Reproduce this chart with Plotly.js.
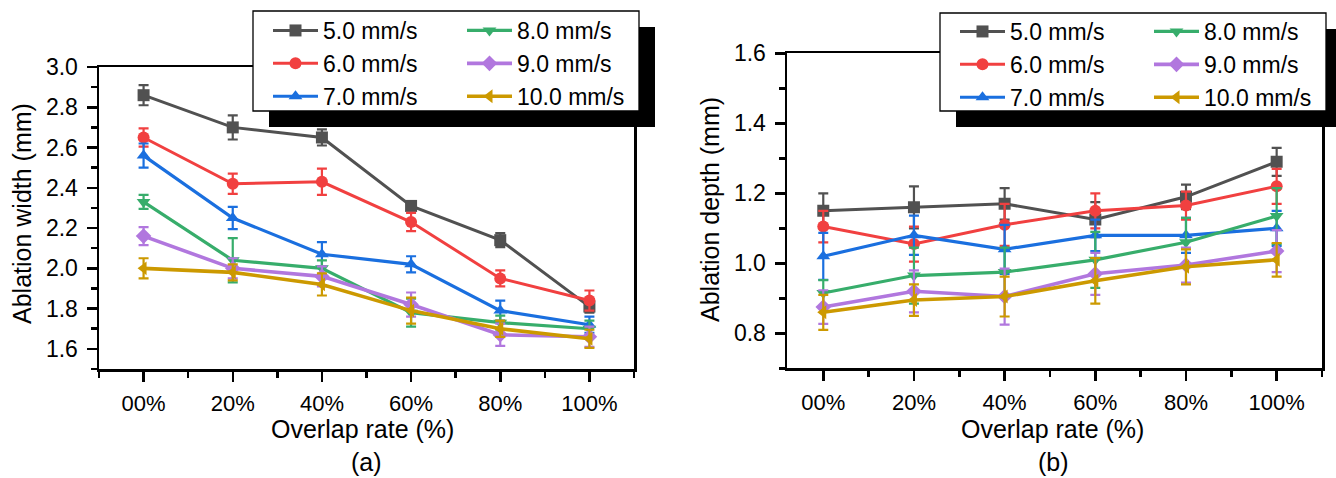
<!DOCTYPE html>
<html>
<head>
<meta charset="utf-8">
<script src="https://cdn.plot.ly/plotly-3.0.1.min.js"></script>
<style>
  html, body { margin: 0; padding: 0; background: #ffffff; }
  #chart { width: 1336px; height: 478px; }
</style>
</head>
<body>
<div id="chart"></div>
<script>
// ---- data ----
const categories = ["00%", "20%", "40%", "60%", "80%", "100%"];
const speeds = ["5.0 mm/s", "6.0 mm/s", "7.0 mm/s", "8.0 mm/s", "9.0 mm/s", "10.0 mm/s"];

// (a) ablation width (mm)
const widthMean5  = [2.86, 2.70, 2.65, 2.31, 2.14, 1.81];
const widthErr5   = [0.05, 0.06, 0.04, 0.02, 0.035, 0.03];
const widthMean6  = [2.65, 2.42, 2.43, 2.23, 1.95, 1.84];
const widthErr6   = [0.045, 0.05, 0.065, 0.045, 0.04, 0.05];
const widthMean7  = [2.56, 2.25, 2.07, 2.02, 1.79, 1.72];
const widthErr7   = [0.06, 0.055, 0.06, 0.04, 0.05, 0.04];
const widthMean8  = [2.33, 2.04, 2.00, 1.78, 1.73, 1.70];
const widthErr8   = [0.035, 0.11, 0.04, 0.07, 0.035, 0.04];
const widthMean9  = [2.16, 2.00, 1.96, 1.82, 1.67, 1.66];
const widthErr9   = [0.045, 0.05, 0.05, 0.06, 0.055, 0.05];
const widthMean10 = [2.00, 1.98, 1.92, 1.79, 1.70, 1.65];
const widthErr10  = [0.05, 0.04, 0.055, 0.065, 0.04, 0.045];

// (b) ablation depth (mm)
const depthMean5  = [1.15, 1.16, 1.17, 1.125, 1.19, 1.29];
const depthErr5   = [0.05, 0.06, 0.045, 0.05, 0.035, 0.04];
const depthMean6  = [1.105, 1.055, 1.11, 1.15, 1.165, 1.22];
const depthErr6   = [0.045, 0.05, 0.06, 0.05, 0.04, 0.05];
const depthMean7  = [1.02, 1.08, 1.04, 1.08, 1.08, 1.10];
const depthErr7   = [0.067, 0.056, 0.07, 0.045, 0.05, 0.05];
const depthMean8  = [0.915, 0.965, 0.975, 1.01, 1.06, 1.135];
const depthErr8   = [0.037, 0.08, 0.07, 0.08, 0.07, 0.08];
const depthMean9  = [0.875, 0.92, 0.905, 0.97, 0.995, 1.035];
const depthErr9   = [0.048, 0.06, 0.08, 0.06, 0.05, 0.06];
const depthMean10 = [0.86, 0.895, 0.905, 0.95, 0.99, 1.01];
const depthErr10  = [0.05, 0.045, 0.057, 0.065, 0.05, 0.048];

const yTicksWidth = [1.6, 1.8, 2.0, 2.2, 2.4, 2.6, 2.8, 3.0];
const yTicksDepth = [0.8, 1.0, 1.2, 1.4, 1.6];

// ---- styling ----
const colors  = ["#515151", "#F14040", "#1A6FDF", "#37AD6B", "#B177DE", "#CC9900"];
const symbols = ["square", "circle", "triangle-up", "triangle-down", "diamond", "triangle-left"];
const lineWidths = [3, 3, 3.2, 3.2, 3.6, 3.6];
const FONT = "Arial, 'Liberation Sans', sans-serif";

const xIdx = categories.map((c, i) => i);
const widthMeans = [widthMean5, widthMean6, widthMean7, widthMean8, widthMean9, widthMean10];
const widthErrs  = [widthErr5, widthErr6, widthErr7, widthErr8, widthErr9, widthErr10];
const depthMeans = [depthMean5, depthMean6, depthMean7, depthMean8, depthMean9, depthMean10];
const depthErrs  = [depthErr5, depthErr6, depthErr7, depthErr8, depthErr9, depthErr10];

function makeTrace(means, errs, i, xa, ya, leg, grp) {
  return {
    type: "scatter", mode: "lines+markers",
    x: xIdx, y: means,
    xaxis: xa, yaxis: ya, legend: leg, legendgroup: grp + i,
    name: speeds[i],
    line: { color: colors[i], width: lineWidths[i] },
    marker: { symbol: symbols[i], size: 12, color: colors[i] },
    error_y: { type: "data", array: errs, visible: true, color: colors[i], thickness: 2.2, width: 5 }
  };
}

const traces = [];
for (let i = 0; i < 6; i++) traces.push(makeTrace(widthMeans[i], widthErrs[i], i, "x", "y", i < 3 ? "legend" : "legend2", "a"));
for (let i = 0; i < 6; i++) traces.push(makeTrace(depthMeans[i], depthErrs[i], i, "x2", "y2", i < 3 ? "legend3" : "legend4", "b"));

const W = 1336, H = 478;
const px = v => v / W;
const py = v => 1 - v / H;

function xAxis(domain, range, anchor) {
  return {
    domain: domain, range: range, anchor: anchor,
    tickvals: xIdx, ticktext: categories,
    showgrid: false, zeroline: false,
    showline: true, linecolor: "#000", linewidth: 2.5, mirror: true,
    ticks: "outside", ticklen: 10, tickwidth: 2.5, tickcolor: "#000",
    minor: { dtick: 0.5, tick0: 0, ticks: "outside", ticklen: 6, tickwidth: 2.5, tickcolor: "#000", showgrid: false },
    tickfont: { family: FONT, size: 22, color: "#000" },
    ticklabelstandoff: 3,
    fixedrange: true
  };
}
function yAxis(domain, range, tickvals, anchor) {
  return {
    domain: domain, range: range, anchor: anchor,
    tickvals: tickvals, tickformat: ".1f",
    showgrid: false, zeroline: false,
    showline: true, linecolor: "#000", linewidth: 2.5, mirror: true,
    ticks: "outside", ticklen: 10, tickwidth: 2.5, tickcolor: "#000",
    minor: { dtick: 0.1, tick0: 0, ticks: "outside", ticklen: 6, tickwidth: 2.5, tickcolor: "#000", showgrid: false },
    tickfont: { family: FONT, size: 23, color: "#000" },
    ticklabelstandoff: 4,
    fixedrange: true
  };
}

const legendCommon = {
  orientation: "v", xanchor: "left", yanchor: "top",
  bgcolor: "rgba(0,0,0,0)", borderwidth: 0,
  font: { family: FONT, size: 23, color: "#000" },
  traceorder: "grouped", tracegroupgap: 0, itemwidth: 45
};

// legend boxes (pixel positions in the figure)
const legTop = 9;
const boxA = { x0: 253, x1: 639, y0: 11, y1: 111 };
const boxB = { x0: 940, x1: 1326, y0: 13, y1: 111 };
const shadowOff = { dx: 16, dy: 16 };

function boxShapes(b) {
  return [
    { type: "rect", xref: "paper", yref: "paper",
      x0: px(b.x0 + shadowOff.dx), x1: px(b.x1 + shadowOff.dx), y0: py(b.y1 + shadowOff.dy), y1: py(b.y0 + shadowOff.dy),
      fillcolor: "#000", line: { width: 0 }, layer: "above" },
    { type: "rect", xref: "paper", yref: "paper",
      x0: px(b.x0), x1: px(b.x1), y0: py(b.y1), y1: py(b.y0),
      fillcolor: "#fff", line: { color: "#000", width: 1.3 }, layer: "above" }
  ];
}

const layout = {
  width: W, height: H,
  margin: { l: 0, r: 0, t: 0, b: 0 },
  paper_bgcolor: "#fff", plot_bgcolor: "#fff",
  font: { family: FONT, color: "#000" },
  showlegend: true,
  xaxis:  xAxis([px(99), px(634)], [-0.5, 5.5], "y"),
  yaxis:  yAxis([1 - 369 / H, 1 - 67 / H], [1.5, 3.0], yTicksWidth, "x"),
  xaxis2: xAxis([px(787), px(1322)], [-0.4, 5.5], "y2"),
  yaxis2: yAxis([1 - 368.3 / H, 1 - 53.3 / H], [0.7, 1.6], yTicksDepth, "x2"),
  legend:  Object.assign({}, legendCommon, { x: px(boxA.x0 + 15), y: py(legTop) }),
  legend2: Object.assign({}, legendCommon, { x: px(boxA.x0 + 209), y: py(legTop) }),
  legend3: Object.assign({}, legendCommon, { x: px(boxB.x0 + 15), y: py(legTop + 1) }),
  legend4: Object.assign({}, legendCommon, { x: px(boxB.x0 + 209), y: py(legTop + 1) }),
  shapes: boxShapes(boxA).concat(boxShapes(boxB)),
  annotations: [
    { text: "Overlap rate (%)", xref: "paper", yref: "paper", x: px(362), y: py(429), showarrow: false,
      xanchor: "center", yanchor: "middle", font: { family: FONT, size: 25, color: "#000" } },
    { text: "(a)", xref: "paper", yref: "paper", x: px(366), y: py(462), showarrow: false,
      xanchor: "center", yanchor: "middle", font: { family: FONT, size: 25, color: "#000" } },
    { text: "Overlap rate (%)", xref: "paper", yref: "paper", x: px(1052), y: py(429), showarrow: false,
      xanchor: "center", yanchor: "middle", font: { family: FONT, size: 25, color: "#000" } },
    { text: "(b)", xref: "paper", yref: "paper", x: px(1053), y: py(462), showarrow: false,
      xanchor: "center", yanchor: "middle", font: { family: FONT, size: 25, color: "#000" } },
    { text: "Ablation width (mm)", xref: "paper", yref: "paper", x: px(22), y: py(214), showarrow: false,
      textangle: -90, xanchor: "center", yanchor: "middle", font: { family: FONT, size: 25, color: "#000" } },
    { text: "Ablation depth (mm)", xref: "paper", yref: "paper", x: px(710), y: py(210), showarrow: false,
      textangle: -90, xanchor: "center", yanchor: "middle", font: { family: FONT, size: 25, color: "#000" } }
  ]
};

Plotly.newPlot("chart", traces, layout, { staticPlot: true, displayModeBar: false });
</script>
</body>
</html>
